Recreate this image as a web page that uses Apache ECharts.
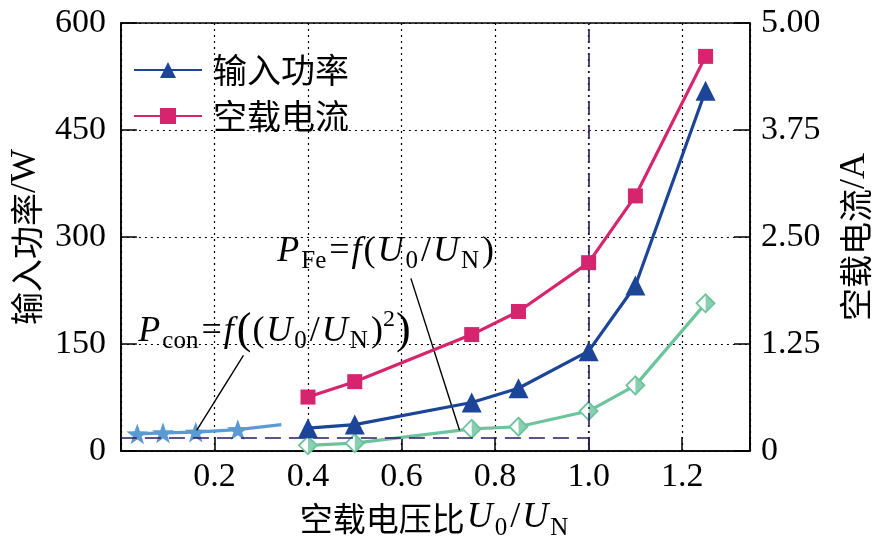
<!DOCTYPE html>
<html><head><meta charset="utf-8">
<script src="https://cdn.jsdelivr.net/npm/echarts@6/dist/echarts.min.js"></script>
<style>html,body{margin:0;padding:0;background:#fff}#c{width:881px;height:548px}</style>
</head><body><div id="c"></div>
<script>
// ---- data ----
const ratioX = [0.4, 0.5, 0.75, 0.85, 1.0, 1.1, 1.25];
const inputPower = [32, 37, 68, 88, 140, 232, 505];      // W
const noLoadCurrent = [0.63, 0.81, 1.36, 1.63, 2.20, 2.98, 4.61]; // A
const pFe = [8, 11, 31, 34, 56, 92, 207];                 // W
const pconX = [0.035, 0.09, 0.16, 0.25, 0.343];
const pcon = [24, 25.5, 26.5, 30, 37];
const xTicks = [0.2, 0.4, 0.6, 0.8, 1.0, 1.2];
const leftTicks = [0, 150, 300, 450, 600];
const rightTicks = [0, 1.25, 2.5, 3.75, 5];
const refX = 1.0, refY = 18.5;

const C_BLUE = '#1c4597', C_PINK = '#d6246e', C_GREEN = '#6cc49c', C_STAR = '#5b9bd5', C_REF = '#2b1b5c';
const SERIF = '"Liberation Serif","Times New Roman",serif';
const CJK = '"Noto Sans CJK SC",sans-serif';
const STAR = 'path://M0 -10 L2.35 -3.24 L9.51 -3.09 L3.80 1.24 L5.88 8.09 L0 4 L-5.88 8.09 L-3.80 1.24 L-9.51 -3.09 L-2.35 -3.24 Z';
const HALF = 'path://M0 0 L10 10 L0 20 Z';

const rich = {
  n: {fontFamily: SERIF, fontSize: 36, lineHeight: 46, color: '#000'},
  c: {fontFamily: CJK, fontSize: 33, lineHeight: 46, color: '#000'},
  i: {fontFamily: SERIF, fontStyle: 'italic', fontSize: 36, lineHeight: 46, color: '#000', padding: [0, 2, 0, 2]},
  sub: {fontFamily: SERIF, fontSize: 25, lineHeight: 25, verticalAlign: 'bottom', color: '#000', padding: [0, 3, 0, 0]},
  sup: {fontFamily: SERIF, fontSize: 24, lineHeight: 24, verticalAlign: 'top', color: '#000'},
  big: {fontFamily: SERIF, fontSize: 44, lineHeight: 46, color: '#000', padding: [0, 1, 0, 1]}
};

const chart = echarts.init(document.getElementById('c'));
const zip = (xs, ys) => xs.map((x, k) => [x, ys[k]]);
const pconData = zip(pconX, pcon).map((p, k) => k === pconX.length - 1 ? {value: p, symbol: 'none'} : p);

chart.setOption({
  animation: false,
  grid: {left: 110, right: 121, top: 23, bottom: 97, show: true, borderColor: '#000', borderWidth: 1.5},
  legend: {
    left: 128, top: 48, orient: 'vertical', itemGap: 12, itemWidth: 68, itemHeight: 20,
    data: ['输入功率', '空载电流'],
    textStyle: {fontFamily: CJK, fontSize: 34, color: '#000', padding: [0, 0, 0, 6]}
  },
  xAxis: {
    type: 'value', min: 0, max: 1.345, interval: 0.2,
    name: '{c|空载电压比}{i|U}{sub|0}{n|/}{i|U}{sub|N}', nameLocation: 'middle', nameGap: 44,
    nameTextStyle: {rich},
    axisLine: {lineStyle: {color: '#000', width: 1.5}},
    axisTick: {inside: true, length: 14, lineStyle: {color: '#000', width: 1.5}},
    axisLabel: {margin: 9, fontFamily: SERIF, fontSize: 34, color: '#000',
      formatter: v => xTicks.some(t => Math.abs(t - v) < 1e-6) ? v.toFixed(1) : ''},
    splitLine: {show: true, lineStyle: {color: '#000', type: [2, 4], width: 1.2}}
  },
  yAxis: [{
    type: 'value', min: 0, max: 600, interval: 150, position: 'left',
    name: '{c|输入功率}{n|/W}', nameLocation: 'middle', nameGap: 64, nameRotate: 90,
    nameTextStyle: {rich},
    axisLine: {show: true, lineStyle: {color: '#000', width: 1.5}},
    axisTick: {inside: true, length: 16, lineStyle: {color: '#000', width: 1.5}},
    axisLabel: {margin: 15, fontFamily: SERIF, fontSize: 34, color: '#000',
      formatter: v => leftTicks.includes(v) ? String(v) : ''},
    splitLine: {show: true, lineStyle: {color: '#000', type: [2, 4], width: 1.2}}
  }, {
    type: 'value', min: 0, max: 5, interval: 1.25, position: 'right',
    name: '{c|空载电流}{n|/A}', nameLocation: 'middle', nameGap: 82, nameRotate: 90,
    nameTextStyle: {rich},
    axisLine: {show: true, lineStyle: {color: '#000', width: 1.5}},
    axisTick: {inside: true, length: 16, lineStyle: {color: '#000', width: 1.5}},
    axisLabel: {margin: 11, fontFamily: SERIF, fontSize: 34, color: '#000',
      formatter: v => v === 0 ? '0' : (rightTicks.includes(v) ? v.toFixed(2) : '')},
    splitLine: {show: false}
  }],
  series: [
    {
      name: 'ref', type: 'line', data: [], silent: true,
      markLine: {
        silent: true, symbol: 'none', label: {show: false},
        data: [
          [{coord: [refX, 0], lineStyle: {color: C_REF, width: 1.6, type: [14, 4, 2, 4]}}, {coord: [refX, 600]}],
          [{coord: [0, refY], lineStyle: {color: C_REF, width: 1.6, type: [16, 8]}}, {coord: [refX, refY]}],
          [{coord: [0.262, 134], lineStyle: {color: '#000', width: 1.4, type: 'solid'}}, {coord: [0.162, 29]}],
          [{coord: [0.620, 242], lineStyle: {color: '#000', width: 1.4, type: 'solid'}}, {coord: [0.724, 29]}]
        ]
      }
    },
    {
      name: 'Pcon', type: 'line', data: pconData, yAxisIndex: 0,
      symbol: STAR, symbolSize: 22, symbolKeepAspect: true,
      lineStyle: {color: C_STAR, width: 3.2}, itemStyle: {color: C_STAR}, z: 3
    },
    {
      name: 'PFe', type: 'line', data: zip(ratioX, pFe), yAxisIndex: 0,
      symbol: 'diamond', symbolSize: 18,
      lineStyle: {color: C_GREEN, width: 3.2}, itemStyle: {color: '#fff', borderColor: C_GREEN, borderWidth: 1.8}, z: 3
    },
    {
      name: 'PFeHalf', type: 'scatter', data: zip(ratioX, pFe), yAxisIndex: 0,
      symbol: HALF, symbolSize: [9, 18], symbolOffset: [4.5, 0],
      itemStyle: {color: C_GREEN}, z: 4
    },
    {
      name: '输入功率', type: 'line', data: zip(ratioX, inputPower), yAxisIndex: 0,
      symbol: 'triangle', symbolSize: 20,
      lineStyle: {color: C_BLUE, width: 3.2}, itemStyle: {color: C_BLUE}, z: 5
    },
    {
      name: '空载电流', type: 'line', data: zip(ratioX, noLoadCurrent), yAxisIndex: 1,
      symbol: 'rect', symbolSize: 15,
      lineStyle: {color: C_PINK, width: 3.2}, itemStyle: {color: C_PINK}, z: 5
    }
  ]
});

function place() {
  const a = chart.convertToPixel({xAxisIndex: 0, yAxisIndex: 0}, [0.033, 168]);
  const b = chart.convertToPixel({xAxisIndex: 0, yAxisIndex: 0}, [0.33, 280]);
  chart.setOption({
    graphic: [
      {type: 'text', x: a[0], y: a[1], z: 10, style: {
        text: '{i|P}{sub|con}{n|=}{i|f}{big|(}{n|(}{i|U}{sub|0}{n|/}{i|U}{sub|N}{n|)}{sup|2}{big|)}',
        rich, verticalAlign: 'middle', align: 'left'}},
      {type: 'text', x: b[0], y: b[1], z: 10, style: {
        text: '{i|P}{sub|Fe}{n|=}{i|f}{n|(}{i|U}{sub|0}{n|/}{i|U}{sub|N}{n|)}',
        rich, verticalAlign: 'middle', align: 'left'}}
    ]
  });
}
place();
</script>
</body></html>
